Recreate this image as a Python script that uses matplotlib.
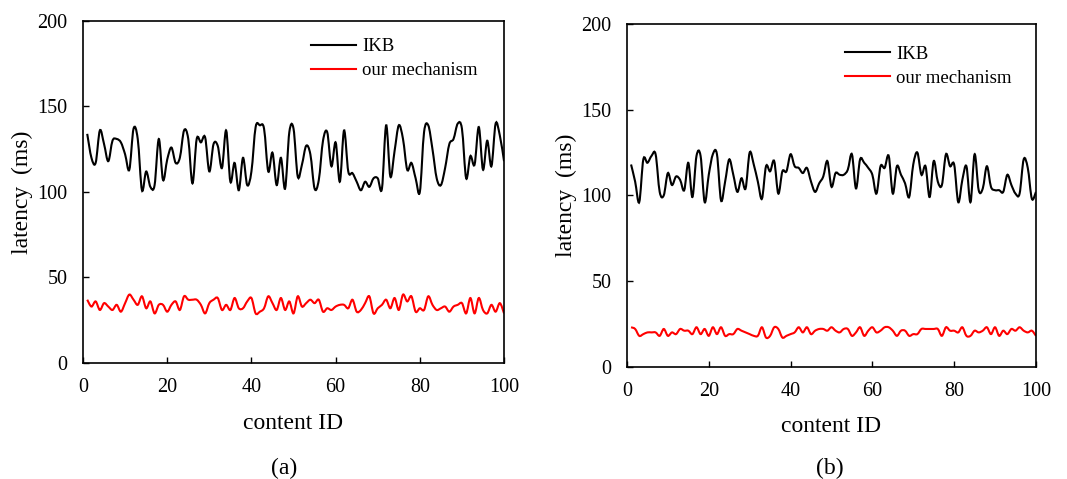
import numpy as np
import matplotlib.pyplot as plt
from matplotlib.path import Path
from matplotlib.patches import PathPatch
from matplotlib.lines import Line2D

plt.rcParams['font.family'] = ['Liberation Serif', 'DejaVu Serif']

# ----------------------------------------------------------------------
# data
# ----------------------------------------------------------------------
content_id = list(range(1, 101))

ikb_a = [134, 120, 117, 136, 128, 118, 130, 131, 129, 122,
         113, 137, 131, 101, 112, 103, 104, 131, 107, 119,
         126, 117, 120, 136, 131, 105, 131, 129, 132, 112,
         128, 127, 114, 136, 106, 117, 101, 120, 104, 112,
         138, 139, 137, 112, 123, 104, 120, 102, 135, 137,
         109, 116, 127, 122, 102, 107, 130, 135, 115, 129,
         106, 136, 112, 111, 106, 101, 106, 103, 108, 108,
         102, 139, 109, 124, 139, 131, 113, 117, 108, 100,
         135, 139, 125, 108, 104, 114, 128, 131, 140, 137,
         108, 121, 116, 138, 113, 130, 115, 140, 133, 118]

ours_a = [37, 33, 36, 31, 35, 33, 31, 34, 30, 35,
          40, 37, 34, 39, 32, 36, 29, 34, 34, 30,
          34, 36, 31, 39, 37, 37, 37, 34, 29, 35,
          37, 38, 31, 34, 31, 38, 32, 32, 36, 38,
          29, 30, 32, 39, 35, 31, 38, 31, 36, 29,
          39, 33, 35, 37, 35, 37, 30, 32, 31, 33,
          34, 34, 32, 37, 30, 31, 35, 39, 29, 32,
          34, 37, 32, 38, 31, 40, 36, 39, 30, 32,
          31, 39, 34, 31, 32, 33, 30, 33, 34, 35,
          29, 38, 29, 38, 31, 29, 34, 30, 35, 29]

ikb_b = [118, 108, 96, 121, 119, 123, 124, 102, 100, 113,
         106, 111, 109, 103, 119, 99, 123, 123, 96, 112,
         124, 124, 97, 108, 121, 112, 102, 110, 104, 125,
         118, 108, 98, 117, 114, 120, 101, 114, 114, 124,
         117, 116, 113, 116, 108, 102, 107, 111, 120, 105,
         113, 112, 112, 115, 124, 104, 121, 119, 116, 112,
         101, 117, 116, 123, 101, 117, 112, 107, 99, 118,
         125, 112, 117, 99, 120, 108, 106, 124, 117, 118,
         96, 109, 117, 96, 124, 103, 104, 117, 105, 103,
         103, 102, 112, 106, 101, 101, 121, 116, 98, 102]

ours_b = [23, 22, 18, 19, 20, 20, 20, 18, 22, 18,
          20, 19, 22, 21, 21, 19, 23, 19, 22, 18,
          23, 19, 23, 18, 19, 19, 22, 21, 20, 19,
          18, 18, 23, 17, 18, 23, 22, 17, 18, 19,
          20, 23, 20, 23, 19, 21, 22, 22, 21, 23,
          21, 20, 22, 22, 18, 20, 23, 18, 21, 23,
          20, 21, 23, 23, 21, 18, 21, 21, 18, 19,
          19, 22, 22, 22, 22, 22, 18, 23, 21, 21,
          20, 23, 18, 18, 21, 20, 21, 23, 19, 23,
          18, 21, 19, 22, 21, 23, 21, 20, 21, 18]

series_names = ['IKB', 'our mechanism']
series_colors = ['black', 'red']


def smooth_path(x, y):
    # Excel style smoothed line: Catmull-Rom segments as cubic Beziers
    p = np.column_stack([x, y]).astype(float)
    p = np.vstack([p[0], p, p[-1]])
    verts = [p[1]]
    codes = [Path.MOVETO]
    for i in range(1, len(p) - 2):
        c1 = p[i] + (p[i + 1] - p[i - 1]) / 6
        c2 = p[i + 1] - (p[i + 2] - p[i]) / 6
        verts += [c1, c2, p[i + 1]]
        codes += [Path.CURVE4] * 3
    return Path(verts, codes)


fig = plt.figure(figsize=(10.67, 4.79), dpi=100)
ax_a = fig.add_axes([0.0778, 0.2422, 0.3946, 0.714])
ax_b = fig.add_axes([0.5876, 0.2345, 0.3833, 0.7154])

# axes, series, caption, caption x, legend anchor
panels = [(ax_a, [ikb_a, ours_a], '(a)', 0.266, (0.542, 0.95)),
          (ax_b, [ikb_b, ours_b], '(b)', 0.778, (0.533, 0.937))]

for ax, data, caption, cx, leg_xy in panels:
    for vals, col in zip(data, series_colors):
        ax.add_patch(PathPatch(smooth_path(content_id, vals), facecolor='none',
                               edgecolor=col, lw=1.5))
    ax.set_xlim(0, 100)
    ax.set_ylim(0, 200)
    ax.set_xticks(range(0, 101, 20))
    ax.set_yticks(range(0, 201, 50))
    ax.tick_params(direction='in', labelsize=14.5, length=4, width=1, pad=11)
    for s in ax.spines.values():
        s.set_linewidth(1.2)
    ax.set_xlabel('content ID', fontsize=17, labelpad=11)
    ax.set_ylabel('latency  (ms)', fontsize=17, labelpad=3)
    handles = [Line2D([], [], color=c, lw=1.5) for c in series_colors]
    ax.legend(handles, series_names, loc='upper left', frameon=False,
              fontsize=13.5, handlelength=2.4, handletextpad=0.32,
              labelspacing=0.36, borderpad=0, borderaxespad=0,
              bbox_to_anchor=leg_xy)
    fig.text(cx, 0.023, caption, ha='center', va='center', fontsize=17)

fig.savefig('out.png', dpi=100)
